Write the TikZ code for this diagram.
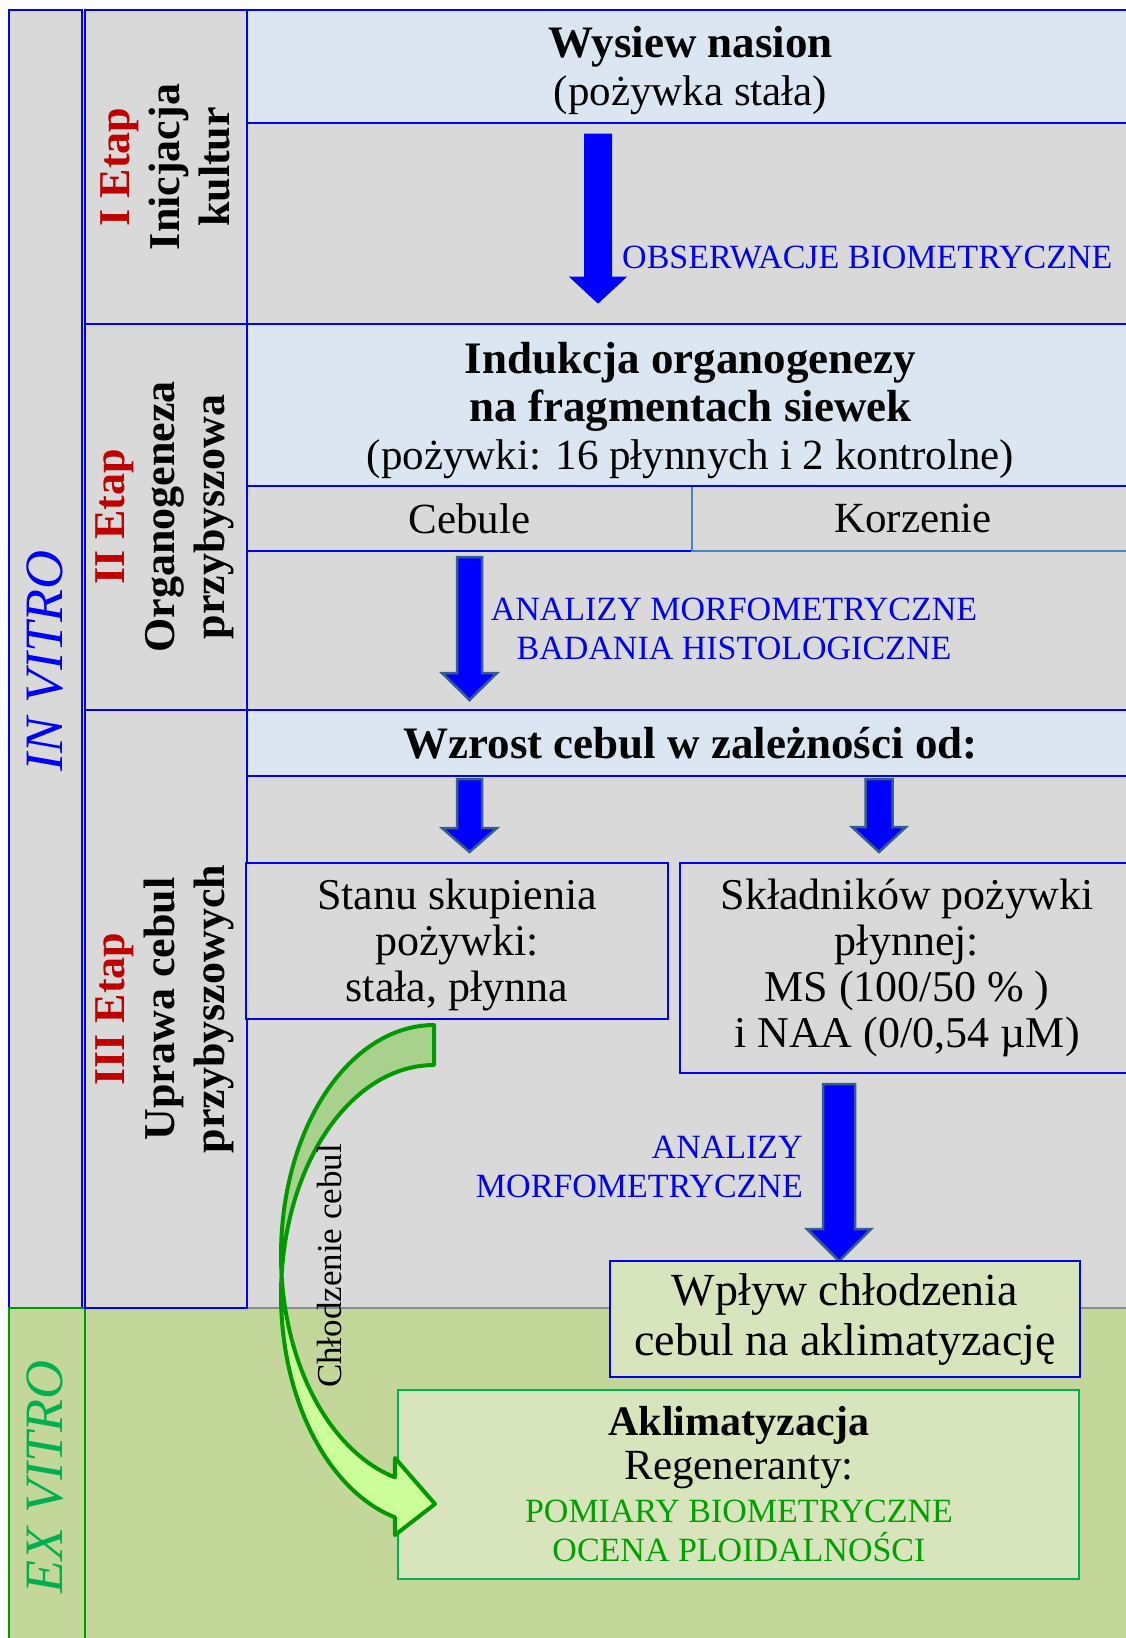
\documentclass[tikz,border=0pt]{standalone}
\usepackage{fontspec}
\setmainfont{Liberation Serif}
\usepackage{xcolor}
\usepackage{tikz}
\usetikzlibrary{calc}
\definecolor{inblue}{HTML}{0000FF}
\definecolor{etapred}{HTML}{C00000}
\definecolor{bggray}{HTML}{D9D9D9}
\definecolor{lblue}{HTML}{DCE6F2}
\definecolor{steel}{HTML}{4F81BD}
\definecolor{arrline}{HTML}{385D8A}
\definecolor{exbg}{HTML}{C4D79B}
\definecolor{lgreen}{HTML}{D8E4BC}
\definecolor{exgreen}{HTML}{00B050}
\definecolor{dgreen}{HTML}{009900}
\definecolor{capgreen}{HTML}{00A000}
\definecolor{curvdark}{HTML}{A9D18E}
\definecolor{curvlight}{HTML}{CCFF99}
\definecolor{sepgray}{HTML}{8C8C8C}
\tikzset{
  frame/.style={draw=inblue, line width=2.5pt},
  lbox/.style={frame, fill=lblue, inner sep=0pt, align=center, font=\fontsize{43}{48}\selectfont},
  gbox/.style={frame, fill=bggray, inner sep=0pt, align=center, font=\fontsize{44}{46}\selectfont},
  wbox/.style={frame, fill=lgreen, inner sep=0pt, align=center, font=\fontsize{46}{50}\selectfont},
  abox/.style={draw=exgreen, line width=2.5pt, fill=lgreen, inner sep=0pt},
  lab/.style={inner sep=0pt, align=center, font=\fontsize{43}{44}\selectfont},
  caps/.style={inner sep=0pt, align=center, text=inblue, font=\fontsize{34}{39}\selectfont},
  stagelab/.style={rotate=90, inner sep=0pt, align=center, font=\bfseries\fontsize{44}{50}\selectfont},
  vitro/.style={rotate=90, inner sep=0pt, font=\itshape\fontsize{54}{60}\selectfont},
  arr/.style={fill=inblue, draw=inblue, line width=1pt, line join=miter},
  arrb/.style={fill=inblue, draw=arrline, line width=2.5pt, line join=miter},
  curv/.style={draw=dgreen, line width=4pt, line join=round},
}
% bold heading line, and a strut to push a text block down
\newcommand{\hd}[1]{{\bfseries\fontsize{45}{48}\selectfont #1}}
\newcommand{\lift}[1]{\rule{0pt}{#1}}
% block arrow from #2 down to #3; #4 shaft half width, #5 head half width, #6 head length
\newcommand{\blkarrow}[6][arrb]{%
  \draw[#1] let \p1=#2, \p2=#3 in
    (\x1-#4,\y1) -- (\x1+#4,\y1) -- (\x1+#4,\y2+#6) -- (\x1+#5,\y2+#6)
    -- (\x1,\y2) -- (\x1-#5,\y2+#6) -- (\x1-#4,\y2+#6) -- cycle;}

\begin{document}
\begin{tikzpicture}[x=1pt, y=-1pt]
  \useasboundingbox (0,0) rectangle (1126,1638);

  % backgrounds
  \fill[bggray] (9,10) rectangle (1140,1308);
  \fill[exbg] (9,1308) rectangle (1140,1645);
  \draw[sepgray, line width=1.5pt] (247,1308) -- (1140,1308);

  % in vitro / ex vitro
  \draw[frame] (9,10) rectangle (82,1308);
  \node[vitro, text=inblue] (invitro) at (45,661) {IN VITRO};
  \draw[dgreen, line width=2.5pt] (9,1308) rectangle (85,1645);
  \node[vitro, text=exgreen] (exvitro) at (45,1477) {EX VITRO};

  % stages
  \foreach \st/\ya/\yb/\la/\lb in {I/10/324/Inicjacja/kultur,
      II/324/710/Organogeneza/przybyszowa, III/710/1308/Uprawa cebul/przybyszowych}{
    \draw[frame] (85,\ya) rectangle (247,\yb);
    \node[stagelab] (stage\st) at (165,{(\ya+\yb)/2}) {\textcolor{etapred}{\st{} Etap}\\\la\\\lb};
  }

  % row I
  \node[lbox, minimum width=887, minimum height=113] (wysiew) at (690.5,66.5) {\lift{40pt}\hd{Wysiew nasion}\\(pożywka stała)};
  \draw[frame, fill=bggray] (247,123) rectangle (1140,324);
  \coordinate (obsTop) at (598,134);
  \coordinate (obsTip) at (598,303);
  \blkarrow[arr]{(obsTop)}{(obsTip)}{13.5pt}{28pt}{26pt}
  \node[caps, anchor=base west] (obsLab) at (622,268) {OBSERWACJE BIOMETRYCZNE};

  % row II
  \node[gbox, minimum width=445, minimum height=65, font=\fontsize{43}{46}\selectfont] (cebule) at (469.5,518.5) {Cebule};
  \node[gbox, draw=steel, line width=1.5pt, minimum width=442, minimum height=65, font=\fontsize{43}{46}\selectfont] (korzenie) at (913,518.5) {Korzenie};
  \node[lbox, minimum width=887, minimum height=162] (indukcja) at (690.5,405) {\lift{42pt}\hd{Indukcja organogenezy}\\\hd{na fragmentach siewek}\\(pożywki: 16 płynnych i 2 kontrolne)};
  \coordinate (cebTop) at (469.5,557);
  \coordinate (cebTip) at (469.5,700);
  \blkarrow{(cebTop)}{(cebTip)}{12.5pt}{27.5pt}{27pt}
  \node[caps] (histLab) at (734,629) {ANALIZY MORFOMETRYCZNE\\BADANIA HISTOLOGICZNE};

  % row III
  \node[lbox, minimum width=887, minimum height=66] (wzrost) at (690.5,743) {\hd{Wzrost cebul w zależności od:}};
  \node[gbox, minimum width=422, minimum height=156] (stanu) at (457,941) {\lift{38.5pt}Stanu skupienia\\pożywki:\\stała, płynna};
  \node[gbox, minimum width=454, minimum height=210] (sklad) at (907,968) {Składników pożywki\\płynnej:\\MS (100/50 \% )\\i NAA (0/0,54 µM)};
  \coordinate (wzL) at (469.5,779);
  \coordinate (wzLTip) at (469.5,852);
  \coordinate (wzR) at (879,779);
  \coordinate (wzRTip) at (879,852);
  \blkarrow{(wzL)}{(wzLTip)}{12.5pt}{27.5pt}{24pt}
  \blkarrow{(wzR)}{(wzRTip)}{13.5pt}{27pt}{25pt}
  \coordinate (skTop) at (839,1084);
  \coordinate (skTip) at (839,1261);
  \blkarrow{(skTop)}{(skTip)}{16pt}{32pt}{32pt}
  \node[caps, align=right, anchor=east] (morfLab) at (803,1167) {ANALIZY\\MORFOMETRYCZNE};
  \node[wbox, minimum width=470, minimum height=116] (wplyw) at (845,1319) {Wpływ chłodzenia\\cebul na aklimatyzację};

  % ex vitro
  \node[abox, minimum width=681, minimum height=189] (aklim) at (738.5,1484.5) {};
  \node[lab] (aklimTxt) at (739,1448) {{\bfseries\fontsize{42}{44}\selectfont Aklimatyzacja}\\Regeneranty:};
  \node[caps, text=capgreen] (pomiary) at (739,1531) {POMIARY BIOMETRYCZNE\\OCENA PLOIDALNOŚCI};

  % curved arrow
  \draw[curv, fill=curvdark] plot[domain=270:175, samples=40] ({434+153*cos(\x)},{1255+230*sin(\x)})
    -- plot[domain=185:270, samples=40] ({434+153*cos(\x)},{1295+230*sin(\x)}) -- cycle;
  \draw[curv, fill=curvlight] plot[domain=185:104.8, samples=40] ({434+153*cos(\x)},{1295+230*sin(\x)})
    -- (395,1535) -- (435,1504) -- (395,1458)
    -- plot[domain=104.8:175, samples=40] ({434+153*cos(\x)},{1255+230*sin(\x)}) -- cycle;
  \node[rotate=90, inner sep=0pt, font=\fontsize{35}{40}\selectfont] (chlodz) at (330,1266) {Chłodzenie cebul};
\end{tikzpicture}
\end{document}
